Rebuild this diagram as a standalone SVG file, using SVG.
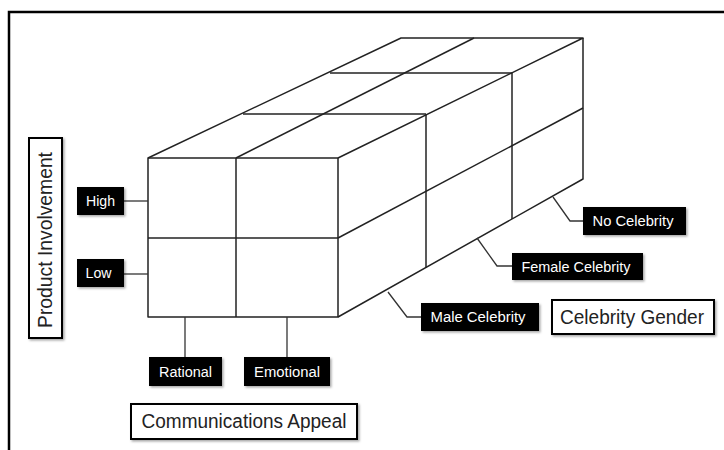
<svg xmlns="http://www.w3.org/2000/svg" width="724" height="450" viewBox="0 0 724 450">
  <defs>
    <filter id="shadow" x="-10%" y="-10%" width="130%" height="140%">
      <feDropShadow dx="1.5" dy="1.5" stdDeviation="0.8" flood-color="#000" flood-opacity="0.35"/>
    </filter>
  </defs>
  <style>
    .frame { fill: none; stroke: #000; stroke-width: 2.5; }
    .edge { fill: none; stroke: #222; stroke-width: 1.5; stroke-linejoin: round; }
    .lead { fill: none; stroke: #333; stroke-width: 1.3; }
    .tag rect { fill: #000; filter: url(#shadow); }
    .tag text { fill: #fff; font-family: "Liberation Sans", Arial, sans-serif; font-size: 14px; text-anchor: middle; }
    .axis rect { fill: #fff; stroke: #000; stroke-width: 2; filter: url(#shadow); }
    .axis text { fill: #222; font-family: "Liberation Sans", Arial, sans-serif; font-size: 20px; text-anchor: middle; }
  </style>

  <!-- outer frame -->
  <path class="frame" d="M9,452 V12 H726"/>

  <!-- cube: 2 x 2 x 3 cells -->
  <g id="cube">
    <!-- front face -->
    <rect class="edge" x="148" y="158" width="190" height="159"/>
    <line class="edge" x1="236" y1="158" x2="236" y2="317"/>
    <line class="edge" x1="148" y1="238" x2="338" y2="238"/>
    <!-- top face -->
    <polyline class="edge" points="148,158 401,38 583,38 338,158"/>
    <line class="edge" x1="236" y1="158" x2="474" y2="38"/>
    <line class="edge" x1="243" y1="114" x2="426" y2="114"/>
    <line class="edge" x1="330" y1="73" x2="512" y2="73"/>
    <!-- right face -->
    <polyline class="edge" points="583,38 583,179 338,317"/>
    <line class="edge" x1="338" y1="238" x2="583" y2="108"/>
    <line class="edge" x1="426" y1="114" x2="426" y2="268"/>
    <line class="edge" x1="512" y1="73" x2="512" y2="219"/>
  </g>

  <!-- leader lines -->
  <g id="connectors">
    <line class="lead" x1="124" y1="201" x2="148" y2="201"/>
    <line class="lead" x1="124" y1="274" x2="148" y2="274"/>
    <line class="lead" x1="185" y1="317" x2="185" y2="357"/>
    <line class="lead" x1="287" y1="317" x2="287" y2="357"/>
    <polyline class="lead" points="388,292 407,317 421,317"/>
    <polyline class="lead" points="477,238 497,266 512,266"/>
    <polyline class="lead" points="553,197 570,221 583,221"/>
  </g>

  <!-- level labels -->
  <g id="high" class="tag">
    <rect x="77" y="187" width="47" height="28"/>
    <text x="100.5" y="206" textLength="29" lengthAdjust="spacingAndGlyphs">High</text>
  </g>
  <g id="low" class="tag">
    <rect x="77" y="259" width="47" height="28"/>
    <text x="98.5" y="278" textLength="26" lengthAdjust="spacingAndGlyphs">Low</text>
  </g>
  <g id="rational" class="tag">
    <rect x="149" y="357" width="73" height="29"/>
    <text x="185.5" y="376.5" textLength="53" lengthAdjust="spacingAndGlyphs">Rational</text>
  </g>
  <g id="emotional" class="tag">
    <rect x="244" y="357" width="86" height="29"/>
    <text x="287" y="376.5" textLength="66" lengthAdjust="spacingAndGlyphs">Emotional</text>
  </g>
  <g id="male-celebrity" class="tag">
    <rect x="421" y="303" width="118" height="28"/>
    <text x="478" y="322" textLength="95" lengthAdjust="spacingAndGlyphs">Male Celebrity</text>
  </g>
  <g id="female-celebrity" class="tag">
    <rect x="512" y="253" width="131" height="27"/>
    <text x="576" y="271.5" textLength="109" lengthAdjust="spacingAndGlyphs">Female Celebrity</text>
  </g>
  <g id="no-celebrity" class="tag">
    <rect x="583" y="207" width="103" height="28"/>
    <text x="633" y="226" textLength="81" lengthAdjust="spacingAndGlyphs">No Celebrity</text>
  </g>

  <!-- axis titles -->
  <g id="product-involvement" class="axis">
    <rect x="29" y="138" width="33" height="200"/>
    <text transform="translate(52,240) rotate(-90)" x="0" y="0" textLength="176" lengthAdjust="spacingAndGlyphs">Product Involvement</text>
  </g>
  <g id="communications-appeal" class="axis">
    <rect x="131" y="404" width="226" height="35"/>
    <text x="244" y="428" textLength="205" lengthAdjust="spacingAndGlyphs">Communications Appeal</text>
  </g>
  <g id="celebrity-gender" class="axis">
    <rect x="552" y="300" width="162" height="34"/>
    <text x="632" y="324" textLength="144" lengthAdjust="spacingAndGlyphs">Celebrity Gender</text>
  </g>
</svg>
